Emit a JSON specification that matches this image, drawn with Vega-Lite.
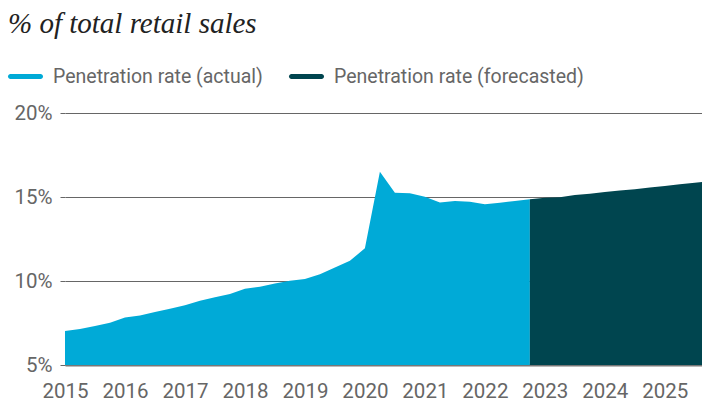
{
  "$schema": "https://vega.github.io/schema/vega-lite/v6.json",
  "width": 637,
  "height": 252,
  "autosize": {"type": "none"},
  "padding": {"left": 65, "top": 113, "right": 0, "bottom": 37},
  "background": "white",
  "title": {
    "text": "% of total retail sales",
    "anchor": "start",
    "frame": "group",
    "dx": -57,
    "offset": 20,
    "font": "Liberation Serif",
    "fontStyle": "italic",
    "fontWeight": "normal",
    "fontSize": 29,
    "color": "#222222"
  },
  "config": {"view": {"stroke": null}},
  "data": {
    "values": [
      {"t": 2015.00, "v": 7.02, "s": "Penetration rate (actual)"},
      {"t": 2015.25, "v": 7.14, "s": "Penetration rate (actual)"},
      {"t": 2015.50, "v": 7.32, "s": "Penetration rate (actual)"},
      {"t": 2015.75, "v": 7.52, "s": "Penetration rate (actual)"},
      {"t": 2016.00, "v": 7.82, "s": "Penetration rate (actual)"},
      {"t": 2016.25, "v": 7.95, "s": "Penetration rate (actual)"},
      {"t": 2016.50, "v": 8.15, "s": "Penetration rate (actual)"},
      {"t": 2016.75, "v": 8.35, "s": "Penetration rate (actual)"},
      {"t": 2017.00, "v": 8.55, "s": "Penetration rate (actual)"},
      {"t": 2017.25, "v": 8.83, "s": "Penetration rate (actual)"},
      {"t": 2017.50, "v": 9.03, "s": "Penetration rate (actual)"},
      {"t": 2017.75, "v": 9.23, "s": "Penetration rate (actual)"},
      {"t": 2018.00, "v": 9.54, "s": "Penetration rate (actual)"},
      {"t": 2018.25, "v": 9.66, "s": "Penetration rate (actual)"},
      {"t": 2018.50, "v": 9.85, "s": "Penetration rate (actual)"},
      {"t": 2018.75, "v": 10.02, "s": "Penetration rate (actual)"},
      {"t": 2019.00, "v": 10.12, "s": "Penetration rate (actual)"},
      {"t": 2019.25, "v": 10.4, "s": "Penetration rate (actual)"},
      {"t": 2019.50, "v": 10.8, "s": "Penetration rate (actual)"},
      {"t": 2019.75, "v": 11.2, "s": "Penetration rate (actual)"},
      {"t": 2020.00, "v": 11.95, "s": "Penetration rate (actual)"},
      {"t": 2020.25, "v": 16.5, "s": "Penetration rate (actual)"},
      {"t": 2020.50, "v": 15.26, "s": "Penetration rate (actual)"},
      {"t": 2020.75, "v": 15.22, "s": "Penetration rate (actual)"},
      {"t": 2021.00, "v": 15.02, "s": "Penetration rate (actual)"},
      {"t": 2021.25, "v": 14.68, "s": "Penetration rate (actual)"},
      {"t": 2021.50, "v": 14.76, "s": "Penetration rate (actual)"},
      {"t": 2021.75, "v": 14.72, "s": "Penetration rate (actual)"},
      {"t": 2022.00, "v": 14.57, "s": "Penetration rate (actual)"},
      {"t": 2022.25, "v": 14.66, "s": "Penetration rate (actual)"},
      {"t": 2022.50, "v": 14.76, "s": "Penetration rate (actual)"},
      {"t": 2022.75, "v": 14.86, "s": "Penetration rate (actual)"},
      {"t": 2022.75, "v": 14.86, "s": "Penetration rate (forecasted)"},
      {"t": 2023.00, "v": 14.96, "s": "Penetration rate (forecasted)"},
      {"t": 2023.25, "v": 14.98, "s": "Penetration rate (forecasted)"},
      {"t": 2023.50, "v": 15.12, "s": "Penetration rate (forecasted)"},
      {"t": 2023.75, "v": 15.2, "s": "Penetration rate (forecasted)"},
      {"t": 2024.00, "v": 15.3, "s": "Penetration rate (forecasted)"},
      {"t": 2024.25, "v": 15.38, "s": "Penetration rate (forecasted)"},
      {"t": 2024.50, "v": 15.46, "s": "Penetration rate (forecasted)"},
      {"t": 2024.75, "v": 15.56, "s": "Penetration rate (forecasted)"},
      {"t": 2025.00, "v": 15.65, "s": "Penetration rate (forecasted)"},
      {"t": 2025.25, "v": 15.76, "s": "Penetration rate (forecasted)"},
      {"t": 2025.50, "v": 15.85, "s": "Penetration rate (forecasted)"},
      {"t": 2025.75, "v": 15.93, "s": "Penetration rate (forecasted)"}
    ]
  },
  "mark": {"type": "area", "clip": true, "opacity": 1},
  "encoding": {
    "x": {
      "field": "t",
      "type": "quantitative",
      "scale": {"domain": [2015, 2025.62], "nice": false, "zero": false},
      "axis": {
        "title": null,
        "values": [2015, 2016, 2017, 2018, 2019, 2020, 2021, 2022, 2023, 2024, 2025],
        "format": "d",
        "grid": false,
        "ticks": false,
        "domain": true,
        "domainColor": "#777777",
        "domainWidth": 2,
        "labelFont": "Roboto",
        "labelFontSize": 20.5,
        "labelColor": "#666666",
        "labelPadding": 16,
        "labelFlush": false,
        "labelOverlap": false
      }
    },
    "y": {
      "field": "v",
      "type": "quantitative",
      "stack": null,
      "scale": {"domain": [5, 20], "nice": false, "zero": false},
      "axis": {
        "title": null,
        "values": [5, 10, 15, 20],
        "labelExpr": "datum.value + '%'",
        "grid": true,
        "gridColor": "#666666",
        "gridWidth": 1,
        "domain": false,
        "ticks": true,
        "tickSize": 5,
        "tickColor": "#666666",
        "labelFont": "Roboto",
        "labelFontSize": 20.5,
        "labelColor": "#666666",
        "labelPadding": 8
      }
    },
    "color": {
      "field": "s",
      "type": "nominal",
      "scale": {
        "domain": ["Penetration rate (actual)", "Penetration rate (forecasted)"],
        "range": ["#00AAD7", "#00454F"]
      },
      "legend": {
        "title": null,
        "orient": "none",
        "direction": "horizontal",
        "legendX": -57,
        "legendY": -54,
        "symbolType": "M-0.857,-0.143 L0.857,-0.143 A0.143,0.143 0 0 1 0.857,0.143 L-0.857,0.143 A0.143,0.143 0 0 1 -0.857,-0.143 Z",
        "symbolSize": 1225,
        "symbolOpacity": 1,
        "symbolStrokeWidth": 0,
        "labelFont": "Roboto",
        "labelFontSize": 19.5,
        "labelColor": "#666666",
        "labelOffset": 10,
        "columnPadding": 26,
        "labelLimit": 400
      }
    }
  }
}
